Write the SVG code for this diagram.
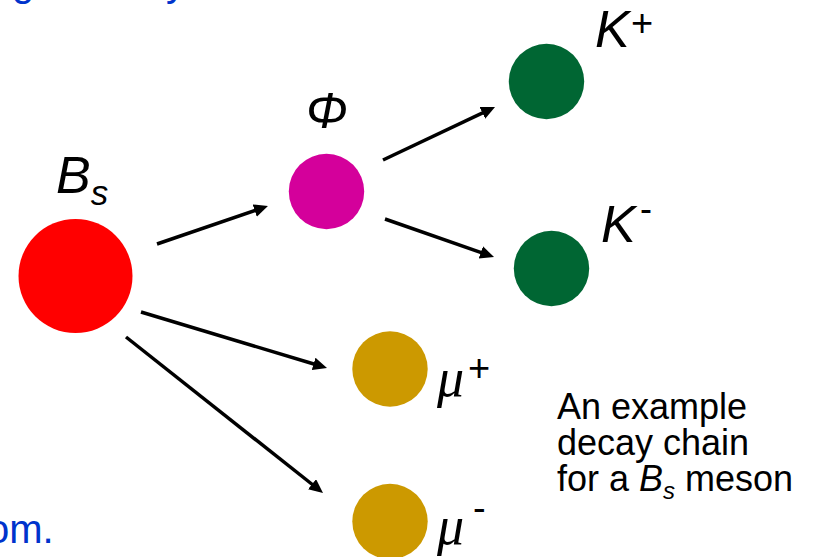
<svg xmlns="http://www.w3.org/2000/svg" width="819" height="557" viewBox="0 0 819 557">
<style>
.lbl{font-family:"Liberation Sans",Arial,sans-serif;font-style:italic;fill:#000}
.mu{font-family:"Liberation Serif","Times New Roman",serif;font-style:italic;fill:#000}
.sup{font-family:"Liberation Sans",Arial,sans-serif;fill:#000}
.cap{font-family:"Liberation Sans",Arial,sans-serif;font-size:36px;fill:#000}
.blue{font-family:"Liberation Sans",Arial,sans-serif;font-size:40px;fill:#0033CC}
.arrow{stroke:#000;stroke-width:3.5;fill:none;marker-end:url(#ah)}
</style>
<defs>
<marker id="ah" markerUnits="userSpaceOnUse" markerWidth="16" markerHeight="14" refX="2" refY="6.5" orient="auto">
<path d="M0,0 L14,6.5 L0,13 Z" fill="#000"/>
</marker>
</defs>
<rect width="819" height="557" fill="#fff"/>
<text class="blue" x="12" y="-4">g</text>
<text class="blue" x="166" y="-4">y</text>
<text class="blue" x="-13" y="543">om.</text>
<g id="connectors">
<line class="arrow" x1="157" y1="244" x2="256.6" y2="209.9"/>
<line class="arrow" x1="383" y1="160" x2="484.2" y2="112.1"/>
<line class="arrow" x1="385" y1="219" x2="482.7" y2="253.1"/>
<line class="arrow" x1="141" y1="312" x2="315.5" y2="364.5"/>
<line class="arrow" x1="126" y1="337" x2="313.6" y2="485.5"/>
</g>
<g id="Bs">
<circle cx="75.5" cy="276" r="57" fill="#FF0000"/>
<text class="lbl" x="56" y="193" font-size="52">B<tspan font-size="35" y="205">s</tspan></text>
</g>
<g id="Phi">
<circle cx="326.5" cy="191.5" r="37.7" fill="#D4009B"/>
<text class="lbl" x="306" y="128" font-size="50">Φ</text>
</g>
<g id="Kplus">
<circle cx="546.5" cy="81.5" r="37.7" fill="#006633"/>
<text class="lbl" x="595" y="47" font-size="52">K</text>
<text class="sup" x="631" y="36" font-size="38">+</text>
</g>
<g id="Kminus">
<circle cx="551.5" cy="268.5" r="37.7" fill="#006633"/>
<text class="lbl" x="601" y="242" font-size="52">K</text>
<text class="sup" x="640" y="221" font-size="36">-</text>
</g>
<g id="muplus">
<circle cx="390" cy="369" r="37.7" fill="#CC9900"/>
<text class="mu" x="437" y="396" font-size="54">μ</text>
<text class="sup" x="468" y="381" font-size="38">+</text>
</g>
<g id="muminus">
<circle cx="390" cy="521.5" r="37.7" fill="#CC9900"/>
<text class="mu" x="437" y="544" font-size="54">μ</text>
<text class="sup" x="473" y="521" font-size="38">-</text>
</g>
<g id="caption">
<text class="cap" x="557" y="419">An example</text>
<text class="cap" x="557" y="455">decay chain</text>
<text class="cap" x="557" y="491">for a <tspan font-style="italic">B</tspan><tspan font-style="italic" font-size="24" dy="8">s</tspan><tspan dy="-8"> meson</tspan></text>
</g>
</svg>
